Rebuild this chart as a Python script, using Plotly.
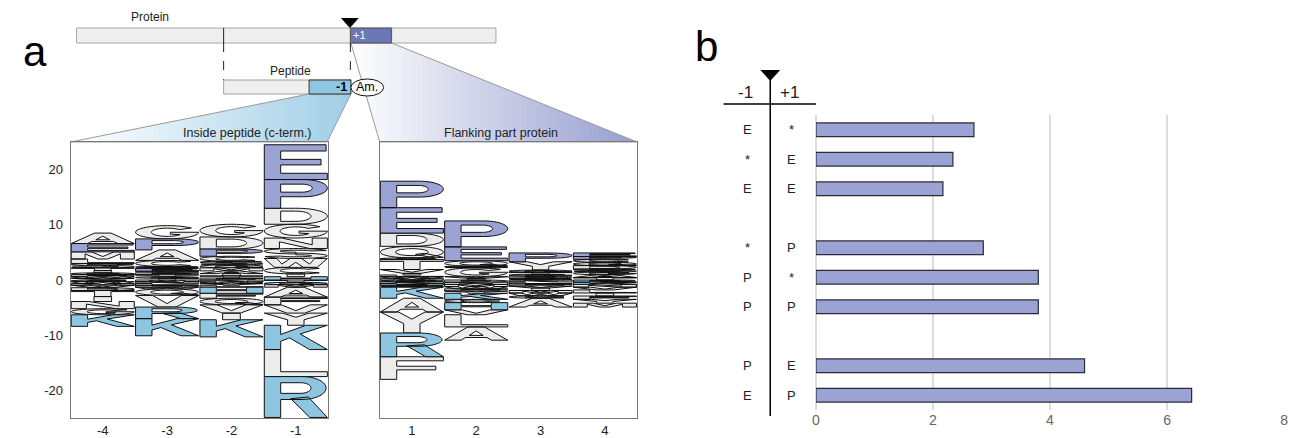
import numpy as np
import plotly.graph_objects as go

W, H = 1298, 438

# ---------------- data: panel b ----------------
pair_minus1 = ["E", "*", "E", "*", "P", "P", "P", "E"]
pair_plus1 = ["*", "E", "E", "P", "*", "P", "E", "P"]
pair_rows = [0, 1, 2, 4, 5, 6, 8, 9]
pair_values = [2.70, 2.34, 2.17, 2.86, 3.80, 3.80, 4.59, 6.42]
bar_ticks = [0, 2, 4, 6, 8]

# ---------------- data: panel a (logo) ----------------
# (letter, height) stacked from 0 outward
col_m4_up = [("Y", 0.3), ("W", 0.3), ("F", 0.35), ("Q", 0.35), ("I", 0.4), ("T", 0.5),
             ("S", 0.8), ("L", 0.8), ("M", 1.3), ("E", 1.5), ("A", 1.9)]
col_m4_down = [("C", 0.3), ("W", 0.35), ("M", 0.3), ("V", 0.45), ("D", 0.5), ("T", 1.1),
               ("I", 0.9), ("N", 1.3), ("G", 1.1), ("K", 2.1)]
col_m3_up = [("I", 0.3), ("Q", 0.3), ("T", 0.35), ("F", 0.35), ("Y", 0.3), ("E", 0.5),
             ("S", 0.35), ("C", 1.1), ("A", 1.9), ("P", 2.0), ("G", 2.4)]
col_m3_down = [("M", 0.3), ("N", 0.3), ("L", 0.35), ("D", 0.35), ("W", 0.3), ("Q", 1.2),
               ("V", 2.1), ("R", 2.1), ("K", 3.1)]
col_m2_up = [("F", 0.35), ("T", 0.4), ("I", 0.4), ("A", 0.5), ("M", 0.55), ("Q", 0.55),
             ("S", 0.65), ("C", 0.9), ("P", 1.3), ("D", 2.2), ("G", 2.3)]
col_m2_down = [("N", 0.35), ("W", 0.3), ("Y", 0.3), ("L", 0.35), ("H", 1.1), ("F", 0.9),
               ("Q", 1.2), ("V", 1.5), ("I", 1.2), ("K", 3.1)]
col_m1_up = [("H", 0.6), ("I", 0.5), ("C", 1.2), ("W", 1.6), ("S", 1.8), ("N", 1.9),
             ("G", 2.5), ("D", 2.9), ("P", 5.2), ("E", 6.3)]
col_m1_down = [("T", 0.4), ("Q", 0.45), ("M", 0.45), ("A", 1.8), ("F", 1.4), ("V", 1.5),
               ("Y", 2.2), ("K", 4.4), ("L", 4.9), ("R", 7.4)]
col_p1_up = [("M", 0.3), ("W", 0.3), ("L", 0.3), ("I", 0.3), ("V", 0.7), ("T", 1.8),
             ("C", 0.3), ("Q", 2.1), ("D", 2.4), ("E", 4.6), ("P", 4.8)]
col_p1_down = [("G", 0.35), ("N", 0.3), ("H", 0.3), ("S", 0.35), ("K", 2.0), ("A", 2.5),
               ("Y", 3.8), ("R", 4.3), ("F", 4.1)]
col_p2_up = [("I", 0.3), ("V", 0.3), ("G", 1.6), ("S", 0.3), ("Q", 1.0), ("E", 2.5), ("P", 4.7)]
col_p2_down = [("D", 0.4), ("N", 0.4), ("M", 0.4), ("W", 0.4), ("F", 0.4), ("Y", 0.4),
               ("K", 1.1), ("C", 0.6), ("H", 1.3), ("V", 0.9), ("L", 2.2), ("A", 2.4)]
col_p3_up = [("S", 0.35), ("D", 0.35), ("G", 0.35), ("T", 0.35), ("Q", 0.4), ("Y", 1.5), ("P", 1.6)]
col_p3_down = [("N", 0.35), ("L", 0.35), ("F", 0.4), ("V", 0.35), ("I", 0.45), ("M", 0.45),
               ("W", 0.5), ("C", 0.45), ("A", 1.6)]
col_p4_up = [("T", 0.45), ("A", 0.5), ("G", 0.5), ("S", 0.55), ("D", 0.6), ("Q", 0.6),
             ("C", 0.55), ("P", 0.5), ("E", 0.65)]
col_p4_down = [("R", 0.4), ("K", 0.4), ("N", 0.5), ("V", 0.5), ("L", 0.55), ("I", 0.55),
               ("F", 0.6), ("Y", 0.7), ("M", 0.7)]

left_positions = [-4, -3, -2, -1]
right_positions = [1, 2, 3, 4]
left_columns = [(col_m4_up, col_m4_down), (col_m3_up, col_m3_down),
                (col_m2_up, col_m2_down), (col_m1_up, col_m1_down)]
right_columns = [(col_p1_up, col_p1_down), (col_p2_up, col_p2_down),
                 (col_p3_up, col_p3_down), (col_p4_up, col_p4_down)]
logo_yticks = [-20, -10, 0, 10, 20]

# ---------------- styles ----------------
PURPLE = "#9ba2d4"
BLUE = "#8ec5e1"
GRAY = "#ececec"
FONT = "Liberation Sans, Arial, sans-serif"


def letter_color(l):
    if l in "EP":
        return PURPLE
    if l in "KRH":
        return BLUE
    return GRAY


# ---------------- glyph outlines (unit box) ----------------
def arc(cx, cy, rx, ry, a0, a1, n=24):
    t = np.radians(np.linspace(a0, a1, n))
    return [(float(cx + rx * np.cos(a)), float(cy + ry * np.sin(a))) for a in t]


def rect(x0, y0, x1, y1):
    return [(x0, y0), (x1, y0), (x1, y1), (x0, y1)]


def signed_area(p):
    s = 0.0
    for i in range(len(p)):
        x1, y1 = p[i]
        x2, y2 = p[(i + 1) % len(p)]
        s += x1 * y2 - x2 * y1
    return s / 2


GL = {
    "E": [("o", [(0, 0), (1, 0), (1, 0.18), (0.26, 0.18), (0.26, 0.42), (0.9, 0.42), (0.9, 0.58),
                 (0.26, 0.58), (0.26, 0.82), (0.98, 0.82), (0.98, 1), (0, 1)])],
    "F": [("o", [(0, 0), (0.26, 0), (0.26, 0.42), (0.88, 0.42), (0.88, 0.58), (0.26, 0.58),
                 (0.26, 0.82), (1, 0.82), (1, 1), (0, 1)])],
    "L": [("o", [(0, 0), (1, 0), (1, 0.18), (0.26, 0.18), (0.26, 1), (0, 1)])],
    "T": [("o", [(0.37, 0), (0.63, 0), (0.63, 0.82), (1, 0.82), (1, 1), (0, 1), (0, 0.82), (0.37, 0.82)])],
    "I": [("o", rect(0.36, 0, 0.64, 1))],
    "H": [("o", [(0, 0), (0.26, 0), (0.26, 0.42), (0.74, 0.42), (0.74, 0), (1, 0), (1, 1), (0.74, 1),
                 (0.74, 0.58), (0.26, 0.58), (0.26, 1), (0, 1)])],
    "K": [("o", [(0, 0), (0.26, 0), (0.26, 0.34), (0.4, 0.48), (0.72, 0), (1, 0), (0.57, 0.64),
                 (1, 1), (0.66, 1), (0.26, 0.62), (0.26, 1), (0, 1)])],
    "M": [("o", [(0, 0), (0.22, 0), (0.22, 0.72), (0.42, 0), (0.58, 0), (0.78, 0.72), (0.78, 0),
                 (1, 0), (1, 1), (0.68, 1), (0.5, 0.35), (0.32, 1), (0, 1)])],
    "N": [("o", [(0, 0), (0.24, 0), (0.24, 0.64), (0.72, 0), (1, 0), (1, 1), (0.76, 1), (0.76, 0.36),
                 (0.28, 1), (0, 1)])],
    "V": [("o", [(0.36, 0), (0.64, 0), (1, 1), (0.73, 1), (0.5, 0.3), (0.27, 1), (0, 1)])],
    "W": [("o", [(0.16, 0), (0.38, 0), (0.5, 0.56), (0.62, 0), (0.84, 0), (1, 1), (0.8, 1), (0.72, 0.36),
                 (0.59, 1), (0.41, 1), (0.28, 0.36), (0.2, 1), (0, 1)])],
    "Y": [("o", [(0.37, 0), (0.63, 0), (0.63, 0.45), (1, 1), (0.71, 1), (0.5, 0.66), (0.29, 1),
                 (0, 1), (0.37, 0.45)])],
    "A": [("o", [(0, 0), (0.26, 0), (0.33, 0.2), (0.67, 0.2), (0.74, 0), (1, 0), (0.63, 1), (0.37, 1)]),
          ("h", [(0.39, 0.36), (0.61, 0.36), (0.5, 0.7)])],
    "C": [("o", arc(0.5, 0.5, 0.5, 0.5, 42, 318, 40) + arc(0.5, 0.5, 0.25, 0.31, 318, 42, 30))],
    "G": [("o", arc(0.5, 0.5, 0.5, 0.5, 40, 360, 40) + [(0.55, 0.5), (0.55, 0.36)]
           + arc(0.5, 0.5, 0.25, 0.31, -35, -320, 30))],
    "D": [("o", [(0, 0)] + arc(0.5, 0.5, 0.5, 0.5, -90, 90, 30) + [(0, 1)]),
          ("h", [(0.26, 0.18)] + arc(0.5, 0.5, 0.24, 0.32, -90, 90, 24) + [(0.26, 0.82)])],
    "P": [("o", [(0, 0), (0.26, 0), (0.26, 0.4)] + arc(0.62, 0.7, 0.38, 0.3, -90, 90, 24) + [(0, 1)]),
          ("h", [(0.26, 0.56)] + arc(0.6, 0.7, 0.16, 0.14, -90, 90, 16) + [(0.26, 0.84)])],
    "R": [("o", [(0, 0), (0.26, 0), (0.26, 0.44)] + arc(0.6, 0.72, 0.38, 0.28, -90, 90, 24) + [(0, 1)]),
          ("h", [(0.26, 0.59)] + arc(0.58, 0.72, 0.16, 0.13, -90, 90, 16) + [(0.26, 0.85)]),
          ("o", [(0.42, 0.46), (0.72, 0), (1, 0), (0.7, 0.5)])],
    "Q": [("o", arc(0.5, 0.5, 0.5, 0.5, 0, 359, 48)),
          ("h", arc(0.5, 0.5, 0.26, 0.3, 0, 359, 36)),
          ("o", [(0.56, 0.3), (0.7, 0.4), (1, 0.05), (0.86, 0)])],
    "S": [("o", arc(0.5, 0.73, 0.5, 0.27, 15, 270, 30) + arc(0.5, 0.73, 0.25, 0.1, 270, 15, 24)),
          ("o", arc(0.5, 0.27, 0.5, 0.27, 90, -165, 30) + arc(0.5, 0.27, 0.25, 0.1, -165, 90, 24))],
}
for k, polys in GL.items():
    fixed = []
    for kind, pts in polys:
        a = signed_area(pts)
        if (kind == "o" and a < 0) or (kind == "h" and a > 0):
            pts = pts[::-1]
        fixed.append((kind, pts))
    GL[k] = fixed


def add_glyph(store, letter, xc, y0, h, w=0.98):
    xs, ys = store
    for kind, pts in GL[letter]:
        px_ = [xc - w / 2 + gx * w for gx, gy in pts]
        py_ = [y0 + gy * h for gx, gy in pts]
        xs.extend(px_ + [px_[0], None])
        ys.extend(py_ + [py_[0], None])


fig = go.Figure()


def add_logo(positions, columns, xa, ya):
    groups = {GRAY: ([], []), BLUE: ([], []), PURPLE: ([], [])}
    for pos, (up, down) in zip(positions, columns):
        cum = 0.0
        for letter, h in up:
            add_glyph(groups[letter_color(letter)], letter, pos, cum, h)
            cum += h
        cum = 0.0
        for letter, h in down:
            cum += h
            add_glyph(groups[letter_color(letter)], letter, pos, -cum, h)
    for col, (xs, ys) in groups.items():
        fig.add_trace(go.Scatter(x=xs, y=ys, mode="lines", fill="toself", fillcolor=col,
                                 line=dict(color="#101010", width=1.0, simplify=False),
                                 xaxis=xa, yaxis=ya, hoverinfo="skip", showlegend=False))


add_logo(left_positions, left_columns, "x", "y")
add_logo(right_positions, right_columns, "x2", "y2")

# ---------------- panel b bars ----------------
fig.add_trace(go.Bar(x=pair_values, y=pair_rows, orientation="h", width=0.46,
                     marker=dict(color="#9ba3d4", line=dict(color="#2b2b38", width=1.2)),
                     xaxis="x3", yaxis="y3", hoverinfo="skip", showlegend=False))


def px(x):
    return x / W


def py(y):
    return 1 - y / H


annotations = []
for r, a, b in zip(pair_rows, pair_minus1, pair_plus1):
    annotations.append(dict(x=px(748), y=r, xref="paper", yref="y3", text=a, showarrow=False,
                            xanchor="center", yanchor="middle",
                            font=dict(size=13, color="#222", family=FONT)))
    annotations.append(dict(x=px(792), y=r, xref="paper", yref="y3", text=b, showarrow=False,
                            xanchor="center", yanchor="middle",
                            font=dict(size=13, color="#222", family=FONT)))


def txt(x, y, s, size=12, color="#222"):
    annotations.append(dict(x=px(x), y=py(y), xref="paper", yref="paper", text=s, showarrow=False,
                            xanchor="center", yanchor="middle",
                            font=dict(size=size, color=color, family=FONT)))


txt(746, 92, "-1", 17)
txt(790, 92, "+1", 17)
txt(31, 51, "a", 42, "#000")
txt(707, 46, "b", 42, "#000")
txt(147, 17, "Protein", 12)
txt(288, 71, "Peptide", 12)
txt(245, 133, "Inside peptide (c-term.)", 12.5)
txt(500, 133, "Flanking part protein", 12.5)
txt(358, 35.5, "+1", 11, "#ffffff")
txt(340, 87.5, "<b>-1</b>", 12.5, "#000")
txt(365.5, 87.5, "Am.", 12.5, "#000")

shapes = []


def path(pts):
    return "M " + " L ".join(f"{px(x):.5f},{py(y):.5f}" for x, y in pts) + " Z"


def clip_half(poly, x, keep_ge):
    out = []
    n = len(poly)
    for i in range(n):
        cur, prev = poly[i], poly[i - 1]
        cin = cur[0] >= x if keep_ge else cur[0] <= x
        pin = prev[0] >= x if keep_ge else prev[0] <= x
        if cin:
            if not pin:
                t = (x - prev[0]) / (cur[0] - prev[0])
                out.append((x, prev[1] + t * (cur[1] - prev[1])))
            out.append(cur)
        elif pin:
            t = (x - prev[0]) / (cur[0] - prev[0])
            out.append((x, prev[1] + t * (cur[1] - prev[1])))
    return out


def gradient_quad(quad, rgb, n=60):
    xs = [p[0] for p in quad]
    x0, x1 = min(xs), max(xs)
    for i in range(n):
        a = x0 + (x1 - x0) * i / n
        b = x0 + (x1 - x0) * (i + 1) / n
        poly = clip_half(clip_half(quad, a - 0.4, True), b + 0.4, False)
        if len(poly) < 3:
            continue
        f = (i + 0.5) / n
        c = tuple(int(round(255 * (1 - f) + v * f)) for v in rgb)
        shapes.append(dict(type="path", path=path(poly), xref="paper", yref="paper",
                           fillcolor=f"rgb{c}", line=dict(width=0), layer="below"))
    shapes.append(dict(type="path", path=path(quad), xref="paper", yref="paper",
                       line=dict(color="#9a9a9a", width=1), layer="below"))


gradient_quad([(307, 94), (349, 94), (325, 142), (67, 142)], (160, 206, 231))
gradient_quad([(349, 43), (390, 43), (637, 142), (378, 142)], (150, 158, 208))


def rect_px(x0, y0, x1, y1, fill, line="#999", lw=1):
    shapes.append(dict(type="rect", x0=px(x0), x1=px(x1), y0=py(y1), y1=py(y0), xref="paper",
                       yref="paper", fillcolor=fill, line=dict(color=line, width=lw)))


def line_px(x0, y0, x1, y1, color="#000", lw=1, dash="solid"):
    shapes.append(dict(type="line", x0=px(x0), x1=px(x1), y0=py(y0), y1=py(y1), xref="paper",
                       yref="paper", line=dict(color=color, width=lw, dash=dash)))


# protein / peptide schematic
rect_px(73, 28, 495, 43, "#efefef", "#a8a8a8")
line_px(221, 28, 221, 43, "#222", 1)
rect_px(348.5, 28, 390, 43, "#6c77b8", "#555", 1)
shapes.append(dict(type="path", path=path([(339, 18), (357, 18), (348, 28)]), xref="paper",
                   yref="paper", fillcolor="#000", line=dict(width=0)))
line_px(221, 43, 221, 80, "#222", 1, "dash")
line_px(348.5, 43, 348.5, 80, "#222", 1, "dash")
rect_px(221, 80, 349, 94, "#efefef", "#a0a0a0")
rect_px(307, 80, 349, 94, "#8fc6e2", "#333", 1)
shapes.append(dict(type="circle", x0=px(349), x1=px(382), y0=py(96), y1=py(79), xref="paper",
                   yref="paper", fillcolor="#ffffff", line=dict(color="#111", width=1)))

# panel b header
line_px(724, 104, 817, 104, "#000", 1.5)
line_px(771, 78, 771, 416, "#000", 1.5)
shapes.append(dict(type="path", path=path([(761, 70), (781, 70), (771, 81)]), xref="paper",
                   yref="paper", fillcolor="#000", line=dict(width=0)))

tickfont = dict(size=13, color="#222", family=FONT)
logo_y_dom = [py(418), py(142)]
axis_box = dict(showline=True, mirror=True, linecolor="#7a7a7a", linewidth=1, showgrid=False,
                zeroline=False, ticks="", fixedrange=True)

fig.update_layout(
    width=W, height=H, margin=dict(l=0, r=0, t=0, b=0),
    paper_bgcolor="#ffffff", plot_bgcolor="#ffffff", showlegend=False,
    font=dict(family=FONT),
    xaxis=dict(domain=[px(67), px(326)], range=[-4.5, -0.5], anchor="y",
               tickvals=left_positions, ticktext=[str(v) for v in left_positions],
               tickfont=tickfont, **axis_box),
    yaxis=dict(domain=logo_y_dom, range=[-25, 25], anchor="x",
               tickvals=logo_yticks, ticktext=[str(v) for v in logo_yticks],
               tickfont=tickfont, ticklabelstandoff=4, **axis_box),
    xaxis2=dict(domain=[px(378), px(637)], range=[0.5, 4.5], anchor="y2",
                tickvals=right_positions, ticktext=[str(v) for v in right_positions],
                tickfont=tickfont, **axis_box),
    yaxis2=dict(domain=logo_y_dom, range=[-25, 25], anchor="x2", showticklabels=False, **axis_box),
    xaxis3=dict(domain=[px(817), px(1288)], range=[0, 8], anchor="y3", tickvals=bar_ticks,
                showgrid=True, gridcolor="#dcdcdc", gridwidth=2, zeroline=True,
                zerolinecolor="#dcdcdc", zerolinewidth=2, showline=False, ticks="",
                tickfont=dict(size=14, color="#666", family=FONT), fixedrange=True),
    yaxis3=dict(domain=[py(410), py(115)], range=[9.5, -0.5], anchor="x3", showgrid=False,
                zeroline=False, showticklabels=False, showline=False, fixedrange=True),
    bargap=0.5,
    shapes=shapes,
    annotations=annotations,
)

fig.write_html("out.html", config={"displayModeBar": False},
               post_script="document.body.style.margin='0';document.body.style.overflow='hidden';")
